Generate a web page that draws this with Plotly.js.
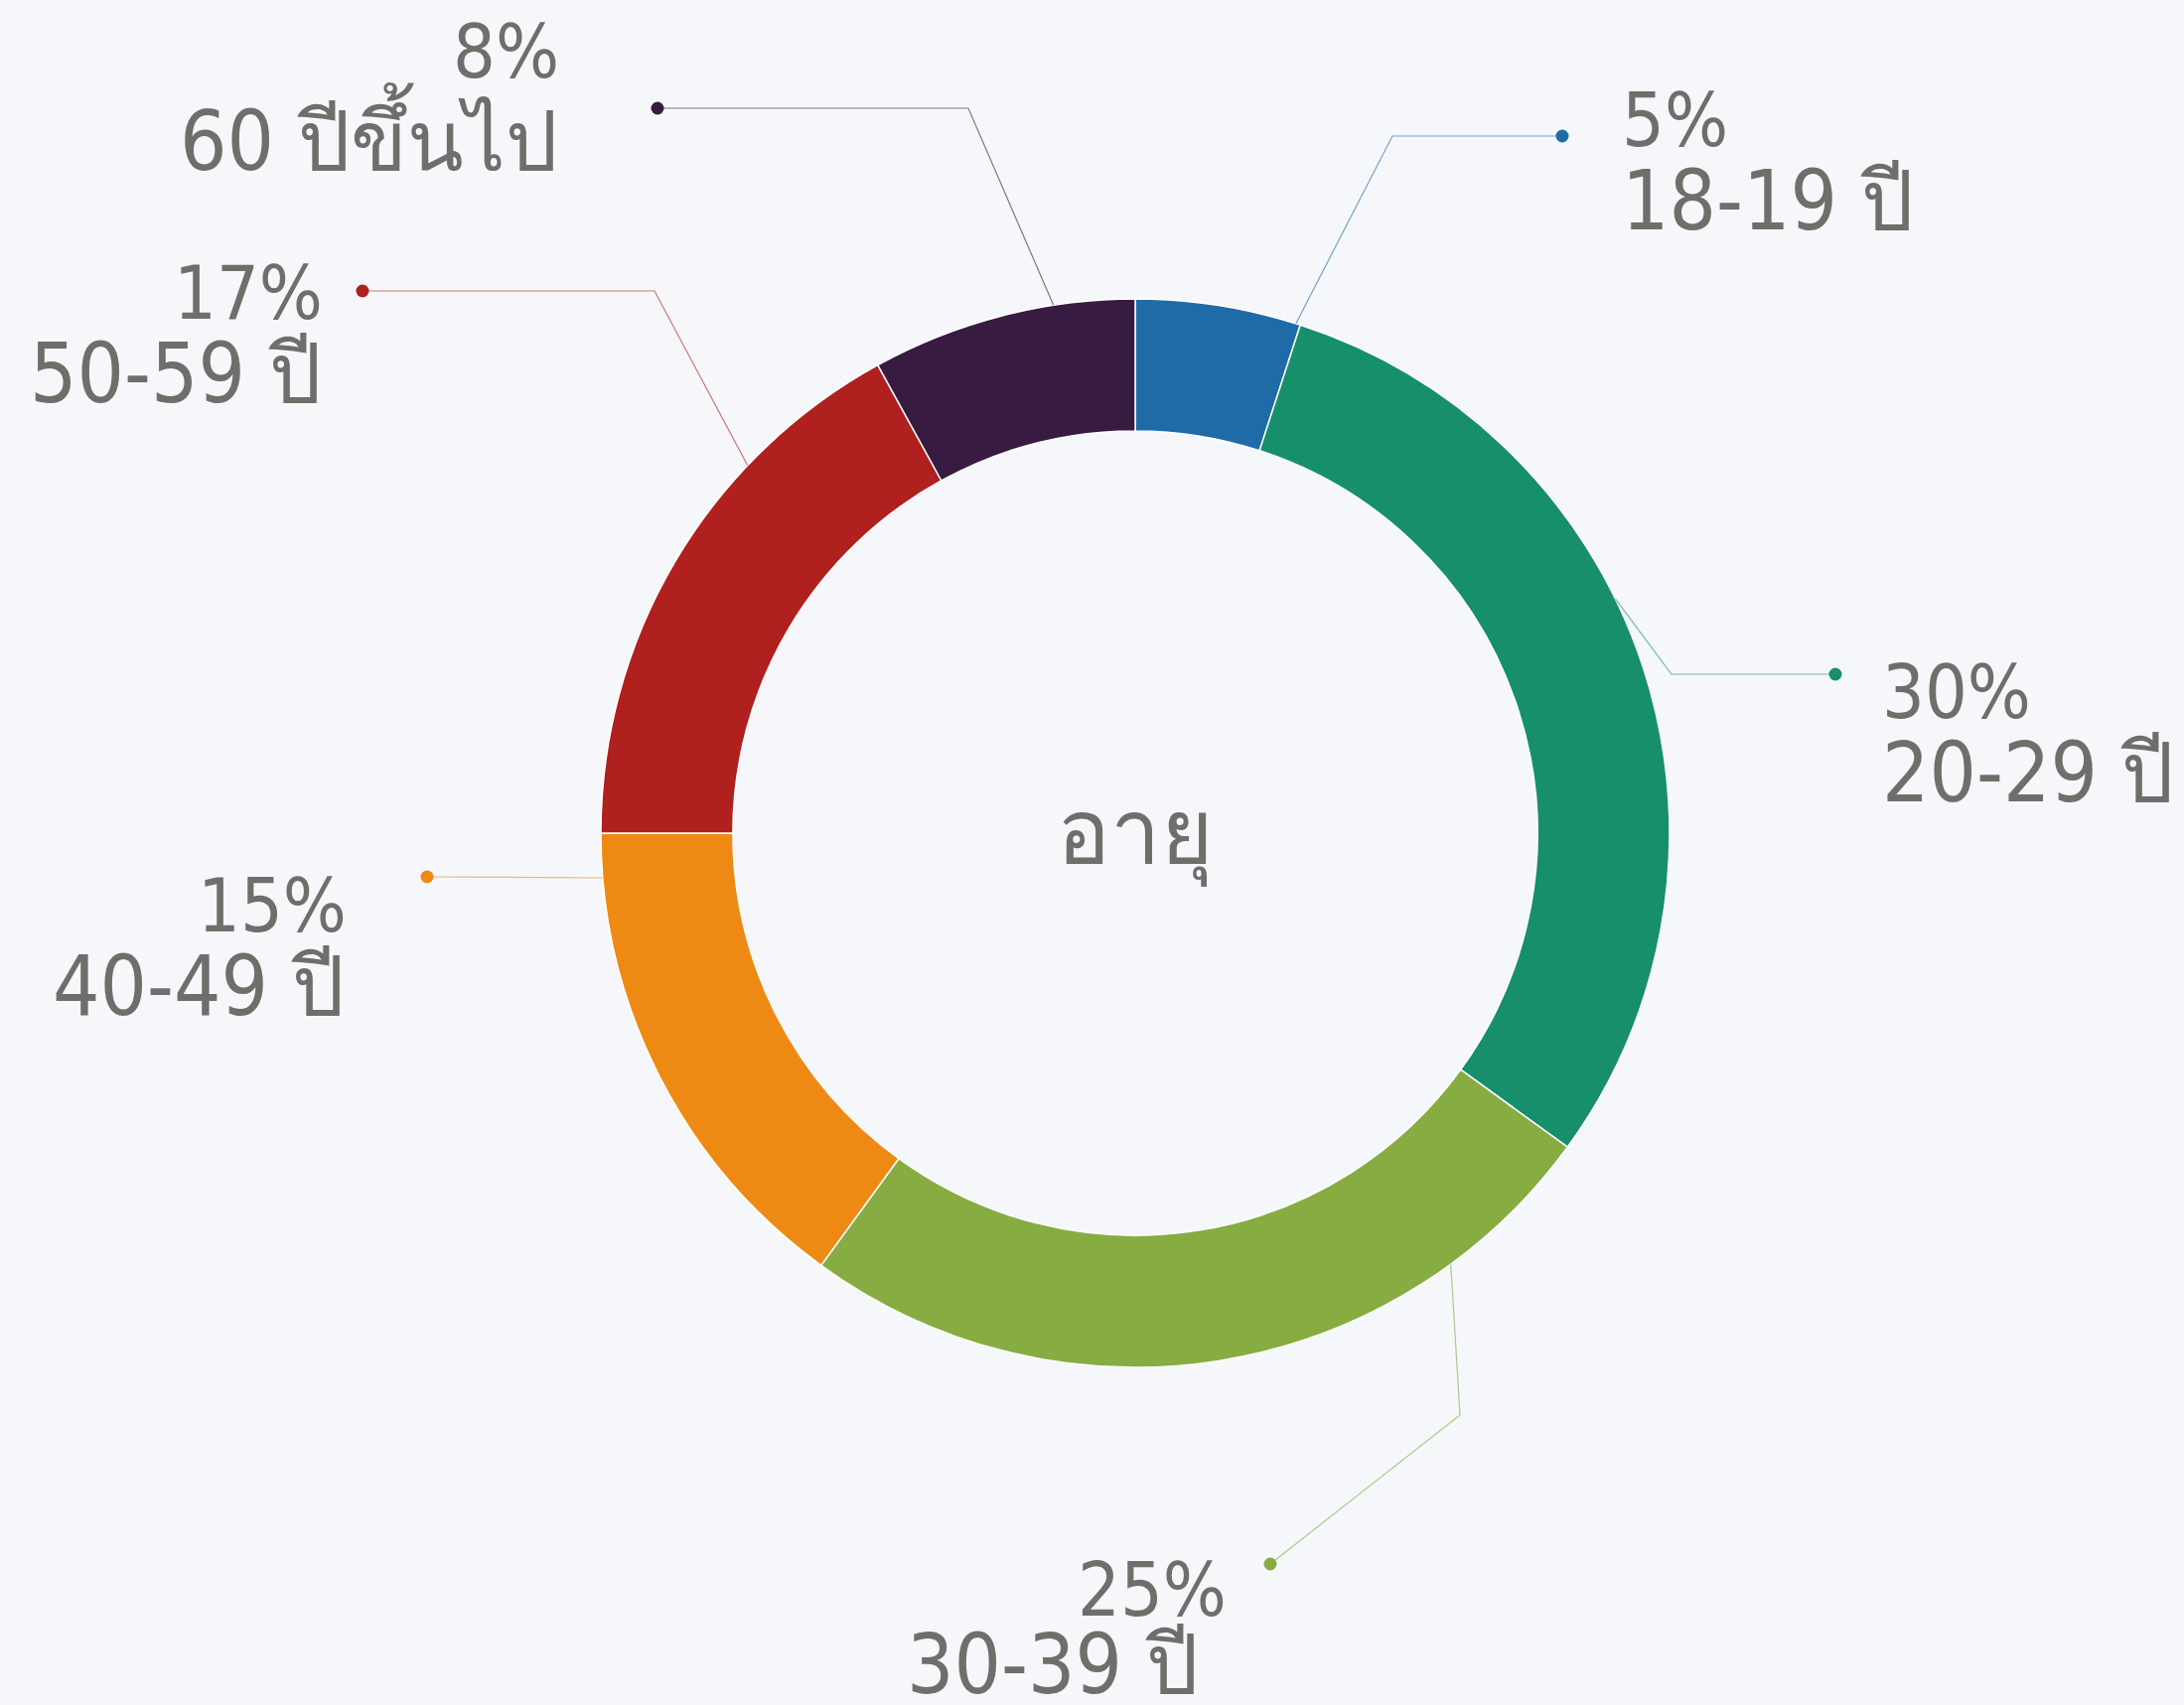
<!DOCTYPE html>
<html>
<head>
<meta charset="utf-8">
<script src="https://cdn.plot.ly/plotly-3.0.1.min.js"></script>
<style>
html,body{margin:0;padding:0;background:#F5F7FA;}
#chart{width:2199px;height:1717px;}
</style>
</head>
<body>
<div id="chart"></div>
<script>
// ---- data ----
const categories = ["18-19 ปี", "20-29 ปี", "30-39 ปี", "40-49 ปี", "50-59 ปี", "60 ปีขึ้นไป"];
const shares = [5, 30, 25, 15, 17, 8];
const pctLabels = ["5%", "30%", "25%", "15%", "17%", "8%"];
const centerTitle = "อายุ";

// ---- styles / layout ----
const colors = ["#1F6BA8", "#178F6C", "#87AC41", "#EE8A14", "#B0201E", "#381B40"];
const W = 2199, H = 1717;
const CX = 1143, CY = 839, R = 538, HOLE = 0.753;
const textColor = "#6E6F6B";
const FONT = "DejaVu Sans Condensed, DejaVu Sans, Noto Sans, sans-serif";
const PCT_SIZE = 75, LAB_SIZE = 83;

// leader layout: anchor angle on outer ring (deg, clockwise from top), elbow, dot, text
const leaders = [
  {ang: 17.5,  elbow: [1402, 137], dot: [1573, 137], side: "left",  tx: 1631, pctBase: 147,  labTx: 1631, labBase: 232},
  {ang: 64.0,  elbow: [1683, 679], dot: [1848, 679], side: "left",  tx: 1893, pctBase: 723,  labTx: 1893, labBase: 808},
  {ang: 143.8, elbow: [1470, 1425], dot: [1279, 1575], side: "right", tx: 1237, pctBase: 1627, labTx: 1209, labBase: 1706},
  {ang: 265.2, elbow: null,        dot: [430, 883],  side: "right", tx: 351,  pctBase: 938,  labTx: 349,  labBase: 1023},
  {ang: 313.5, elbow: [659, 293],  dot: [365, 293],  side: "right", tx: 327,  pctBase: 321,  labTx: 326,  labBase: 406},
  {ang: 351.2, elbow: [975, 109],  dot: [662, 109],  side: "right", tx: 565,  pctBase: 78,   labTx: 564,  labBase: 166}
];

const px = x => x / W;
const py = y => 1 - y / H;

const trace = {
  type: "pie",
  labels: categories,
  values: shares,
  sort: false,
  direction: "clockwise",
  rotation: 0,
  hole: HOLE,
  textinfo: "none",
  hoverinfo: "label+percent",
  showlegend: false,
  marker: {colors: colors, line: {color: "#FFFFFF", width: 1.5}},
  domain: {x: [px(CX - R), px(CX + R)], y: [py(CY + R), py(CY - R)]}
};

const shapes = [];
const annotations = [];
leaders.forEach((L, i) => {
  const a = L.ang * Math.PI / 180;
  const rx = CX + R * Math.sin(a), ry = CY - R * Math.cos(a);
  const pts = [[rx, ry]];
  if (L.elbow) pts.push(L.elbow);
  pts.push(L.dot);
  const path = pts.map((p, k) => (k ? "L" : "M") + px(p[0]).toFixed(5) + "," + py(p[1]).toFixed(5)).join(" ");
  shapes.push({type: "path", xref: "paper", yref: "paper", path: path,
    line: {color: colors[i], width: 1.2}, opacity: 0.6});
  const dr = 6.5;
  shapes.push({type: "circle", xref: "paper", yref: "paper",
    x0: px(L.dot[0] - dr), x1: px(L.dot[0] + dr), y0: py(L.dot[1] + dr), y1: py(L.dot[1] - dr),
    fillcolor: colors[i], line: {width: 0}});
  annotations.push({xref: "paper", yref: "paper", x: px(L.tx), y: py(L.pctBase - 0.35 * PCT_SIZE),
    xanchor: L.side, yanchor: "middle", showarrow: false, text: pctLabels[i],
    font: {family: FONT, size: PCT_SIZE, color: textColor}});
  annotations.push({xref: "paper", yref: "paper", x: px(L.labTx), y: py(L.labBase - 0.35 * LAB_SIZE),
    xanchor: L.side, yanchor: "middle", showarrow: false, text: categories[i],
    font: {family: FONT, size: LAB_SIZE, color: textColor}});
});
annotations.push({xref: "paper", yref: "paper", x: px(CX), y: py(870 - 0.35 * 90),
  xanchor: "center", yanchor: "middle", showarrow: false, text: centerTitle,
  font: {family: FONT, size: 90, color: textColor}});

const layout = {
  width: W, height: H,
  margin: {l: 0, r: 0, t: 0, b: 0},
  paper_bgcolor: "#F5F7FA",
  plot_bgcolor: "#F5F7FA",
  showlegend: false,
  shapes: shapes,
  annotations: annotations
};

Plotly.newPlot("chart", [trace], layout, {displayModeBar: false, staticPlot: true});
</script>
</body>
</html>
